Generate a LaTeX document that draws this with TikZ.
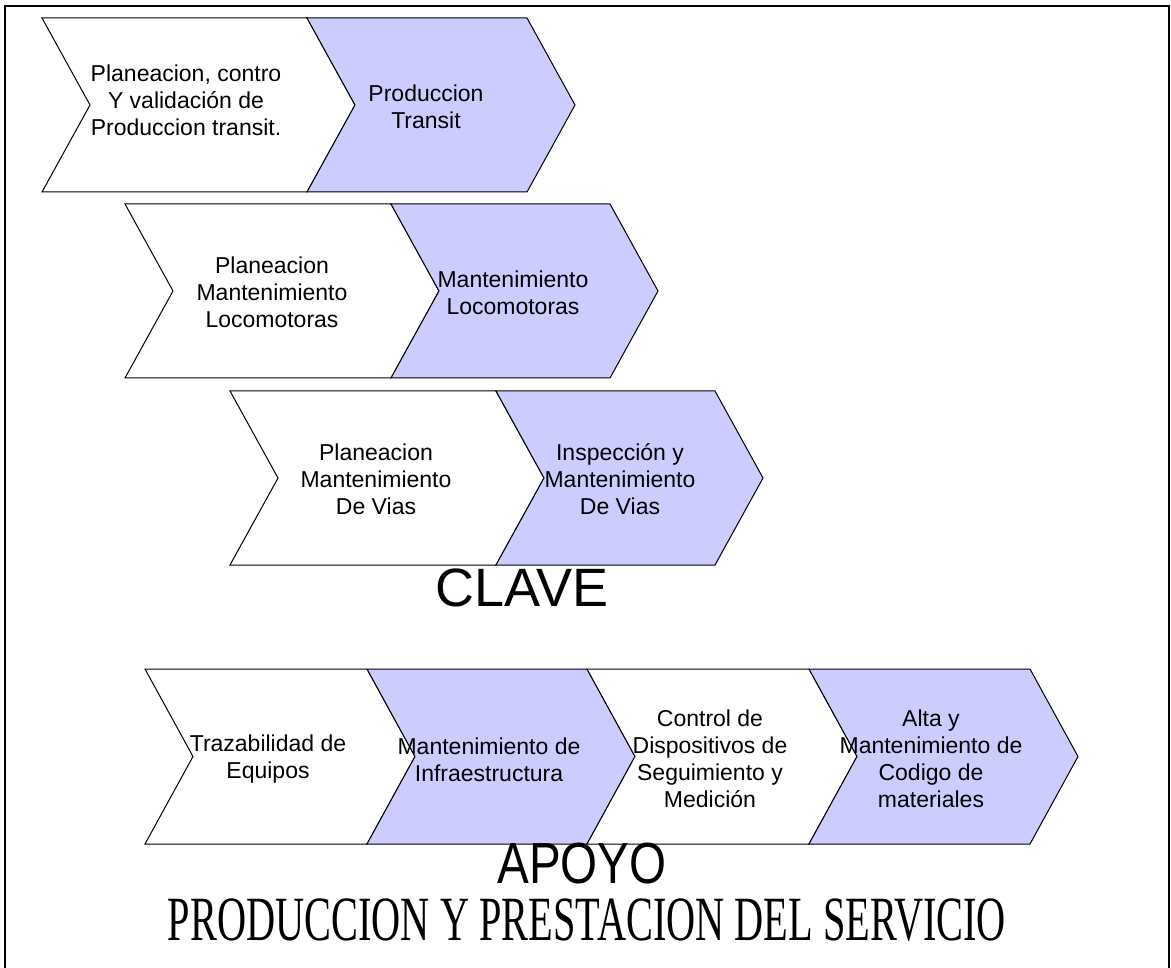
\documentclass[tikz,border=0pt]{standalone}
\usepackage{fontspec}
\setmainfont{Liberation Sans}
\newfontfamily\timesfont{Liberation Serif}
\definecolor{lilac}{RGB}{204,204,255}
\newcommand\chevron[5]{% style, left, top, width, height
  \draw[#1] (#2,#3) -- ++(#4,0) -- ++(48,#5/2) -- ++(-48,#5/2) -- ++(-#4,0) -- ++(48,-#5/2) -- cycle;}
\begin{document}
\begin{tikzpicture}[x=1pt,y=-1pt,
  chevw/.style={draw=black, line width=1pt, fill=white, line join=miter},
  chevb/.style={chevw, fill=lilac},
  lbl/.style={align=center, font=\fontsize{23}{27}\selectfont, inner sep=0pt}]
\useasboundingbox (0,0) rectangle (1171,968);
\fill[white] (0,0) rectangle (1171,968);
\draw[line width=1.5pt] (5,968) -- (5,6) -- (1169,6) -- (1169,968);
% row 1
\chevron{chevw}{42}{18}{265}{174}
\chevron{chevb}{307}{18}{220}{174}
\node[lbl] (r1a) at (186,100) {Planeacion, contro\\Y validación de\\Produccion transit.};
\node[lbl] (r1b) at (426,107) {Produccion\\Transit};
% row 2
\chevron{chevw}{125}{204}{266}{174}
\chevron{chevb}{391}{204}{219}{174}
\node[lbl] (r2a) at (272,292) {Planeacion\\Mantenimiento\\Locomotoras};
\node[lbl] (r2b) at (513,293) {Mantenimiento\\Locomotoras};
% row 3
\chevron{chevw}{230}{391}{266}{174}
\chevron{chevb}{496}{391}{219}{174}
\node[lbl] (r3a) at (376,479) {Planeacion\\Mantenimiento\\De Vias};
\node[lbl] (r3b) at (620,479) {Inspección y\\Mantenimiento\\De Vias};
\node[font=\fontsize{54}{60}\selectfont, inner sep=0pt] (clave) at (522,588) {CLAVE};
% row 4
\chevron{chevw}{145}{669}{222}{175}
\chevron{chevb}{367}{669}{220}{175}
\chevron{chevw}{587}{669}{222}{175}
\chevron{chevb}{809}{669}{221}{175}
\node[lbl] (r4a) at (268,759) {Trazabilidad de\\Equipos};
\node[lbl] (r4b) at (489,760) {Mantenimiento de\\Infraestructura};
\node[lbl] (r4c) at (710,759) {Control de\\Dispositivos de\\Seguimiento y\\Medición};
\node[lbl] (r4d) at (931,759) {Alta y\\Mantenimiento de\\Codigo de\\materiales};
\node[font=\fontsize{58}{64}\selectfont, inner sep=0pt] (apoyo) at (582,864) {\scalebox{0.82}[1]{APOYO}};
\node[font=\timesfont\fontsize{63}{70}\selectfont, inner sep=0pt] (prod) at (587,920) {\scalebox{0.64}[1]{PRODUCCION Y PRESTACION DEL SERVICIO}};
\end{tikzpicture}
\end{document}
